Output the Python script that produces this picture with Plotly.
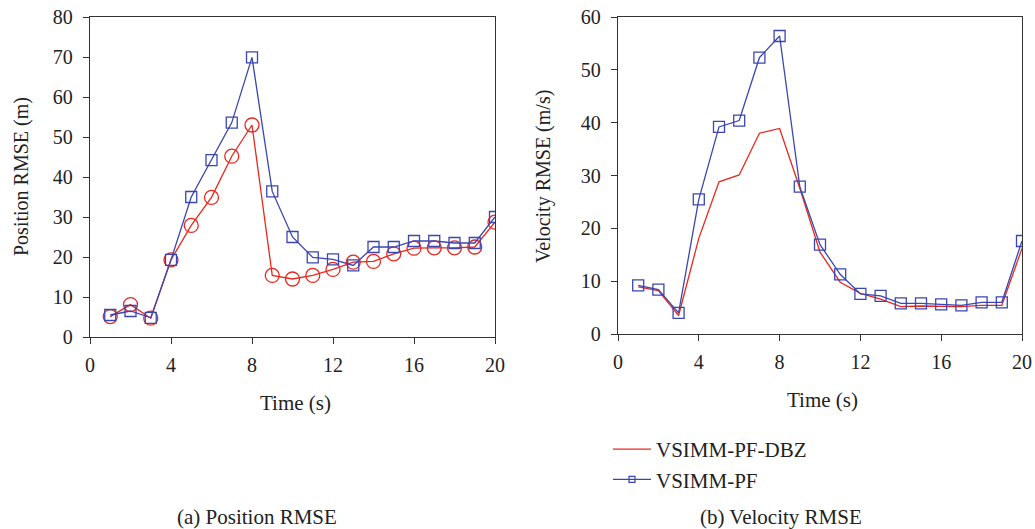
import plotly.graph_objects as go

time = list(range(1, 21))

pos_pf = [5.5, 6.5, 4.8, 19.3, 35.0, 44.2, 53.6, 69.9, 36.4, 25.0,
          19.9, 19.4, 17.9, 22.5, 22.5, 24.0, 24.0, 23.5, 23.5, 30.0]
pos_dbz = [5.1, 8.1, 4.7, 19.3, 27.9, 34.9, 45.2, 53.0, 15.4, 14.5,
           15.4, 16.9, 18.7, 18.9, 20.8, 22.2, 22.3, 22.3, 22.5, 28.7]

vel_pf = [9.2, 8.4, 4.0, 25.5, 39.2, 40.4, 52.3, 56.4, 27.9, 16.9,
          11.3, 7.6, 7.2, 5.8, 5.8, 5.6, 5.4, 6.0, 6.0, 17.6]
vel_dbz = [8.9, 8.2, 3.5, 18.1, 28.8, 30.1, 38.0, 38.9, 27.6, 15.5,
           9.8, 7.7, 6.6, 5.2, 5.3, 5.2, 5.2, 5.4, 5.4, 16.2]

x_ticks = [0, 4, 8, 12, 16, 20]
pos_ticks = [0, 10, 20, 30, 40, 50, 60, 70, 80]
vel_ticks = [0, 10, 20, 30, 40, 50, 60]

RED = "#E8281E"
BLUE = "#3B46B2"
FONT = "Liberation Serif"
TXT = "#222222"
W, H = 1035, 529

fig = go.Figure()

# left panel
fig.add_trace(go.Scatter(x=time, y=pos_dbz, mode="lines+markers", name="VSIMM-PF-DBZ",
                         line=dict(color=RED, width=1.3),
                         marker=dict(symbol="circle-open", size=14, color=RED, line=dict(width=1.3)),
                         xaxis="x", yaxis="y", showlegend=False))
fig.add_trace(go.Scatter(x=time, y=pos_pf, mode="lines+markers", name="VSIMM-PF",
                         line=dict(color=BLUE, width=1.3),
                         marker=dict(symbol="square-open", size=11, color=BLUE, line=dict(width=1.3)),
                         xaxis="x", yaxis="y", showlegend=False))

# right panel
fig.add_trace(go.Scatter(x=time, y=vel_dbz, mode="lines", name="VSIMM-PF-DBZ",
                         line=dict(color=RED, width=1.3),
                         xaxis="x2", yaxis="y2", showlegend=False))
fig.add_trace(go.Scatter(x=time, y=vel_pf, mode="lines+markers", name="VSIMM-PF",
                         line=dict(color=BLUE, width=1.3),
                         marker=dict(symbol="square-open", size=11, color=BLUE, line=dict(width=1.3)),
                         xaxis="x2", yaxis="y2", showlegend=False))

# legend entries (small marker as in the reference legend)
fig.add_trace(go.Scatter(x=[None], y=[None], mode="lines", name="VSIMM-PF-DBZ",
                         line=dict(color=RED, width=1.3), xaxis="x2", yaxis="y2",
                         showlegend=True, hoverinfo="skip"))
fig.add_trace(go.Scatter(x=[None], y=[None], mode="lines+markers", name="VSIMM-PF",
                         line=dict(color=BLUE, width=1.3),
                         marker=dict(symbol="square-open", size=6, color=BLUE, line=dict(width=1.2)),
                         xaxis="x2", yaxis="y2", showlegend=True, hoverinfo="skip"))

axis_common = dict(showgrid=False, zeroline=False, showline=True, linecolor="#333333",
                   linewidth=1.3, mirror=True, ticks="outside", ticklen=6, tickwidth=1.2,
                   tickcolor="#333333", automargin=False,
                   tickfont=dict(family=FONT, size=20, color=TXT))

def px_x(p):
    return p / W

def px_y(p):
    return 1 - p / H

fig.update_layout(
    width=W, height=H,
    margin=dict(l=0, r=0, t=0, b=0),
    paper_bgcolor="white", plot_bgcolor="white",
    font=dict(family=FONT, size=20, color=TXT),
    xaxis=dict(domain=[px_x(90), px_x(495)], range=[0, 20], tickvals=x_ticks,
               anchor="y", ticklabelstandoff=4, **axis_common),
    yaxis=dict(domain=[px_y(337), px_y(17)], range=[0, 80], tickvals=pos_ticks,
               anchor="x", ticklabelstandoff=6, **axis_common),
    xaxis2=dict(domain=[px_x(618), px_x(1022)], range=[0, 20], tickvals=x_ticks,
                anchor="y2", ticklabelstandoff=4, **axis_common),
    yaxis2=dict(domain=[px_y(334), px_y(17)], range=[0, 60], tickvals=vel_ticks,
                anchor="x2", ticklabelstandoff=6, **axis_common),
    legend=dict(x=px_x(608), y=px_y(429), xanchor="left", yanchor="top",
                bgcolor="rgba(0,0,0,0)", font=dict(family=FONT, size=21, color=TXT),
                tracegroupgap=0, itemwidth=38),
    showlegend=True,
)

annotations = [
    dict(text="Time (s)", x=px_x(295), y=px_y(403), xref="paper", yref="paper",
         xanchor="center", yanchor="middle",
         showarrow=False, font=dict(family=FONT, size=21, color=TXT)),
    dict(text="Time (s)", x=px_x(822), y=px_y(400), xref="paper", yref="paper",
         xanchor="center", yanchor="middle",
         showarrow=False, font=dict(family=FONT, size=21, color=TXT)),
    dict(text="Position RMSE (m)", x=px_x(21), y=px_y(177), xref="paper", yref="paper",
         xanchor="center", yanchor="middle",
         showarrow=False, textangle=-90, font=dict(family=FONT, size=20, color=TXT)),
    dict(text="Velocity RMSE (m/s)", x=px_x(543), y=px_y(177), xref="paper", yref="paper",
         xanchor="center", yanchor="middle",
         showarrow=False, textangle=-90, font=dict(family=FONT, size=20, color=TXT)),
    dict(text="(a) Position RMSE", x=px_x(257), y=px_y(517), xref="paper", yref="paper",
         xanchor="center", yanchor="middle",
         showarrow=False, font=dict(family=FONT, size=21, color=TXT)),
    dict(text="(b) Velocity RMSE", x=px_x(781), y=px_y(517), xref="paper", yref="paper",
         xanchor="center", yanchor="middle",
         showarrow=False, font=dict(family=FONT, size=21, color=TXT)),
]
fig.update_layout(annotations=annotations)

fig.write_html("out.html", config={"displayModeBar": False},
               post_script="document.body.style.margin='0';")
